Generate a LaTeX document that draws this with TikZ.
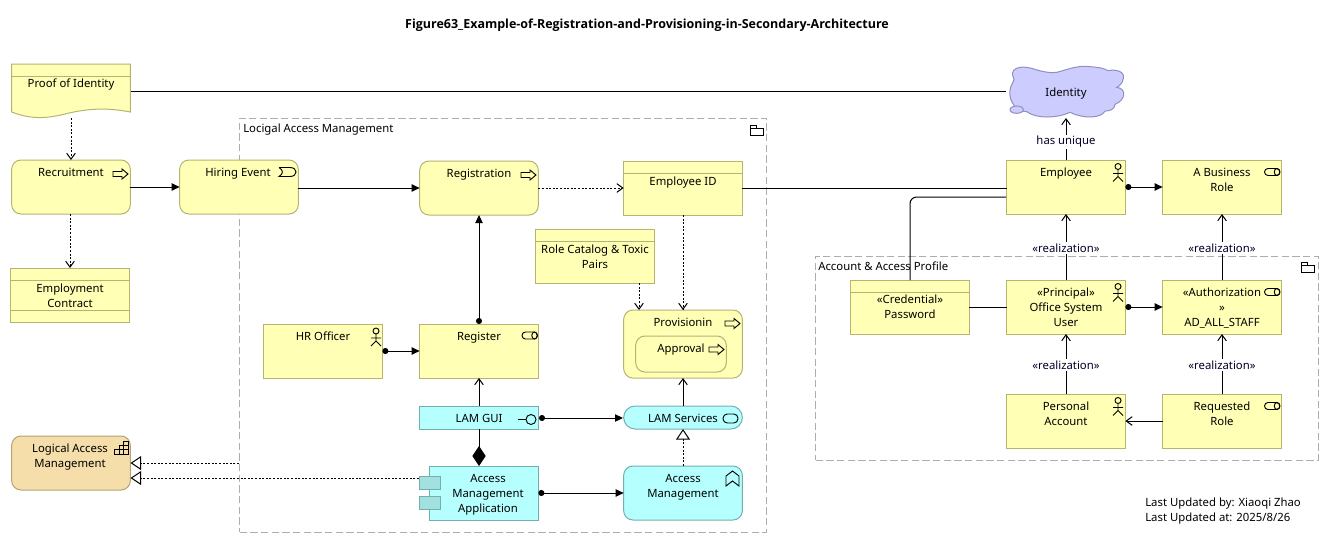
\documentclass[tikz,border=0pt]{standalone}
\usepackage{fontspec}
\setmainfont{Noto Sans}
\newfontfamily\titlefont{Open Sans}
\usetikzlibrary{arrows.meta,calc}
\definecolor{yel}{HTML}{FFFFB5}
\definecolor{yelb}{HTML}{B5B572}
\definecolor{cya}{HTML}{B5FFFF}
\definecolor{cyab}{HTML}{72B0B0}
\definecolor{cyad}{HTML}{A3E0E0}
\definecolor{str}{HTML}{F5DEAA}
\definecolor{strb}{HTML}{B3A377}
\definecolor{mot}{HTML}{CCCCFF}
\definecolor{motb}{HTML}{9090C0}
\definecolor{grp}{HTML}{ADADAD}
\tikzset{
  x=0.75pt,y=-0.75pt,
  box/.style={draw=yelb,fill=yel,line width=0.75pt,inner sep=0pt,outer sep=0pt},
  rbox/.style={box,rounded corners=7pt},
  cbox/.style={box,draw=cyab,fill=cya},
  crbox/.style={cbox,rounded corners=7pt},
  cpill/.style={cbox,rounded corners=8.6pt},
  sbox/.style={box,draw=strb,fill=str,rounded corners=7pt},
  ghost/.style={inner sep=0pt,outer sep=0pt},
  txt/.style={font=\fontsize{8.5}{11.25}\selectfont,align=center,inner sep=0pt,anchor=north,text=black,yshift=-1.5pt,execute at begin node=\strut},
  lab/.style={font=\fontsize{8.5}{11.25}\selectfont,fill=white,inner sep=1pt,text=black!85!blue},
  group/.style={draw=grp,line width=0.75pt,dash pattern=on 5.5pt off 2.5pt,inner sep=0pt,outer sep=0pt},
  icon/.style={draw=black,line width=0.7pt,fill=none},
  conn/.style={draw=black,line width=0.75pt},
  deps/.style={conn,dash pattern=on 1.5pt off 1.2pt},
  opena/.style={-{Straight Barb[length=4.5pt,width=6.5pt]}},
  filla/.style={-{Triangle[length=6pt,width=5.5pt]}},
  balla/.style={{Circle[length=4.5pt]}-{Triangle[length=6pt,width=5.5pt]}},
  hollowa/.style={-{Triangle[open,fill=white,length=8pt,width=10.5pt]}},
  diaa/.style={{Diamond[length=15pt,width=10pt]}-},
}
\newcommand{\elem}[7][0]{%
  \node[#2,minimum width={(#6-#4-1.3)*0.75pt},minimum height={(#7-#5)*0.75pt}] (#3) at ({(#4+#6)/2},{(#5+#7)/2}) {};}
\newcommand{\etext}[4]{\node[txt] (#1) at (#2,#3) {#4};}
\newcommand{\hdr}[2]{\draw[yelb,line width=0.75pt] ($(#1.north west)+(0,#2)$) -- ($(#1.north east)+(0,#2)$);}
\newcommand{\procicon}[2]{\draw[icon] (#1-15,#2-2.5) -- (#1-6,#2-2.5) -- (#1-6,#2-5) -- (#1,#2) -- (#1-6,#2+5) -- (#1-6,#2+2.5) -- (#1-15,#2+2.5) -- cycle;}
\newcommand{\roleicon}[2]{\draw[icon,rounded corners=2.6pt] (#1,#2) rectangle (#1+15.5,#2+7); \draw[icon] (#1+12.5,#2+3.5) ellipse (2.7 and 3.5);}
\newcommand{\actoricon}[2]{\draw[icon] (#1,#2) circle (3) (#1,#2+3) -- (#1,#2+10) (#1-5,#2+7) -- (#1+5,#2+7) (#1-5,#2+15) -- (#1,#2+10) -- (#1+5,#2+15);}
\newcommand{\foldericon}[2]{\draw[icon] (#1,#2+3) rectangle (#1+13,#2+10) (#1,#2+3) -- (#1,#2) -- (#1+6,#2) -- (#1+6,#2+3);}
\begin{document}
\begin{tikzpicture}
\useasboundingbox (0,0) rectangle (1334,543);
\fill[white] (0,0) rectangle (1334,543);
% groups
\elem{group}{lamg}{239}{118}{767}{532}
\elem{group}{accg}{815}{256}{1319}{460}
\node[txt,anchor=north west] (lamgt) at (243,120) {Locigal Access Management};
\node[txt,anchor=north west] (accgt) at (818,258) {Account \& Access Profile};
\foldericon{750}{125}
\foldericon{1301}{262}
% title
\node[font=\titlefont\bfseries\fontsize{9.37}{11}\selectfont,inner sep=0pt] (title) at (647,25.5) {Figure63\_Example-of-Registration-and-Provisioning-in-Secondary-Architecture};
% elements
\node[ghost,minimum width=90pt,minimum height=40.5pt] (proof) at (71,91) {};
\draw[box] (11.6,64) -- (130.4,64) -- (130.4,112) .. controls (105,107) and (85,109) .. (65,114) .. controls (45,119) and (30,119) .. (11.6,112) -- cycle;
\draw[yelb,line width=0.75pt] (11.6,76) -- (130.4,76);
\etext{proofT}{71}{75}{Proof of Identity}
\elem{rbox}{rec}{11}{160}{131}{214}
\etext{recT}{71}{164}{Recruitment}
\procicon{128}{174}
\elem{rbox}{hire}{179}{160}{299}{214}
\etext{hireT}{238}{164}{Hiring Event}
\draw[icon] (279,167.5) -- (290,167.5) .. controls (298,167.5) and (298,176.5) .. (290,176.5) -- (279,176.5) .. controls (283.5,174) and (283.5,170) .. (279,167.5);
\elem{box}{cont}{10}{268}{130}{322}
\hdr{cont}{12}\hdr{cont}{42}
\etext{contT}{70}{282}{Employment\\Contract}
\elem{rbox}{regn}{419}{161}{539}{215}
\etext{regnT}{479}{165}{Registration}
\procicon{536}{175}
\elem{box}{eid}{623}{161}{743}{215}
\hdr{eid}{12}
\etext{eidT}{683}{173}{Employee ID}
\elem{box}{cat}{535}{229}{655}{283}
\hdr{cat}{12}
\etext{catT}{595}{243}{Role Catalog \& Toxic\\Pairs}
\elem{rbox}{prov}{623}{310}{743}{378}
\etext{provT}{683}{314}{Provisionin}
\procicon{740}{323.5}
\elem{rbox}{appr}{635}{336}{727}{372}
\etext{apprT}{681}{340}{Approval}
\procicon{724}{349.5}
\elem{box}{hr}{263}{324}{383}{378}
\etext{hrT}{323}{328}{HR Officer}
\actoricon{376}{331}
\elem{box}{reg}{419}{324}{539}{378}
\etext{regT}{479}{328}{Register}
\roleicon{522}{332}
\elem{cbox}{gui}{419}{406}{539}{429}
\etext{guiT}{479}{410}{LAM GUI}
\draw[icon] (518,419.5) -- (526,419.5) (531,419.5) circle (5);
\elem{cpill}{svc}{623}{406}{743}{429}
\etext{svcT}{683}{410}{LAM Services}
\draw[icon,rounded corners=3.2pt] (723,414) rectangle (738,423);
\elem{cbox}{ama}{429}{466}{539}{520}
\node[cbox,fill=cyad,minimum width=15.75pt,minimum height=9.75pt] (tabA) at (429.5,482.5) {};
\node[cbox,fill=cyad,minimum width=15.75pt,minimum height=9.75pt] (tabB) at (429.5,502.5) {};
\etext{amaT}{488}{472}{Access\\Management\\Application}
\elem{crbox}{fun}{623}{466}{743}{520}
\etext{funT}{683}{472}{Access\\Management}
\draw[icon] (726,476) -- (732.5,471) -- (739,476) -- (739,486) -- (732.5,481) -- (726,486) -- cycle;
\elem{sbox}{cap}{11}{436}{131}{490}
\etext{capT}{70}{442}{Logical Access\\Management}
\draw[icon] (114.5,454) rectangle (128,449.5) (119,454) -- (119,445) (123.5,454) -- (123.5,441) -- (128,441) -- (128,449.5) (114.5,449.5) (119,449.5) (119,445) -- (128,445);
% identity cloud
\node[ghost,minimum width=90pt,minimum height=40.5pt] (ident) at (1066,91) {};
\begin{scope}[shift={(840,55)},x=0.25pt,y=-0.25pt]
\draw[draw=motb,fill=mot,line width=0.75pt] (522,72) .. controls (505,40) and (540,30) .. (575,40) .. controls (600,48) and (625,55) .. (650,52) .. controls (680,45) and (710,30) .. (750,35) .. controls (775,37) and (795,40) .. (803,47) .. controls (830,42) and (855,50) .. (850,70) .. controls (848,85) and (838,93) .. (830,97) .. controls (860,100) and (858,135) .. (825,148) .. controls (825,165) and (805,168) .. (795,168) .. controls (785,190) and (730,192) .. (690,172) .. controls (650,190) and (590,192) .. (560,170) .. controls (530,170) and (505,140) .. (510,105) .. controls (512,90) and (520,85) .. (522,72) -- cycle;
\draw[draw=motb,fill=mot,line width=0.75pt] (530,164) ellipse (20 and 11);
\end{scope}
\etext{identT}{1066}{84}{Identity}
\elem{box}{emp}{1006}{160}{1126}{214}
\etext{empT}{1066}{164}{Employee}
\actoricon{1118}{166.5}
\elem{box}{brole}{1162}{160}{1282}{214}
\etext{broleT}{1222}{166}{A Business\\Role}
\roleicon{1264.5}{168.5}
\elem{box}{pw}{850}{280}{970}{334}
\hdr{pw}{12}
\etext{pwT}{910}{293}{«Credential»\\Password}
\elem{box}{off}{1006}{280}{1126}{334}
\etext{offT}{1066}{286}{«Principal»\\Office System\\User}
\actoricon{1118}{286.5}
\elem{box}{auth}{1162}{280}{1282}{334}
\etext{authT}{1222}{286}{«Authorization\\»\\AD\_ALL\_STAFF}
\roleicon{1264.5}{288.5}
\elem{box}{pers}{1006}{394}{1126}{448}
\etext{persT}{1066}{400}{Personal\\Account}
\actoricon{1118}{400.5}
\elem{box}{req}{1162}{394}{1282}{448}
\etext{reqT}{1222}{400}{Requested\\Role}
\roleicon{1264.5}{402.5}
% connector end points away from centres
\coordinate (catS) at (639,283);
\coordinate (provC) at (639,310);
\coordinate (amaN) at (479,466);
\coordinate (empW2) at (1006,197);
\coordinate (pwN) at (910,280);
\coordinate (lamW) at (239,463);
\coordinate (capE) at (130.5,463);
\coordinate (tabW) at (419,478);
\coordinate (capE2) at (130.5,478);
\coordinate (guiE) at (539,418);
\coordinate (svcW) at (623,418);
% connectors
\draw[conn] (proof.east) -- (ident.west);
\draw[deps,opena] (proof.south) -- (rec.north);
\draw[deps,opena] (rec.south -| cont.north) -- (cont.north);
\draw[conn,filla] (rec.east) -- (hire.west);
\draw[conn,filla] (hire.east |- regn.west) -- (regn.west);
\draw[deps,opena] (regn.east) -- (eid.west);
\draw[conn] (eid.east) -- (emp.west |- eid.east);
\draw[conn,rounded corners=5pt] (pwN) -- (pwN |- empW2) -- (empW2);
\draw[deps,opena] (eid.south) -- (prov.north);
\draw[deps,opena] (catS) -- (provC);
\draw[conn,balla] (hr.east) -- (reg.west);
\draw[conn,{Circle[length=4.5pt]}-{Triangle[length=6pt,width=5.5pt]}] (reg.north) -- (regn.south);
\draw[conn,opena] (gui.north) -- (reg.south);
\draw[conn,balla] (guiE) -- (svcW);
\draw[conn,diaa] (amaN) -- (gui.south);
\draw[conn,balla] (ama.east) -- (fun.west);
\draw[conn,opena] (svc.north) -- (prov.south);
\draw[deps,hollowa] (fun.north) -- (svc.south);
\draw[deps,hollowa] (lamW) -- (capE);
\draw[deps,hollowa] (tabW) -- (capE2);
\draw[conn,opena] (emp.north) -- node[lab,yshift=-2pt] (l1) {has unique} (ident.south);
\draw[conn,balla] (emp.east) -- (brole.west);
\draw[conn,opena] (off.north) -- node[lab,yshift=-0.75pt] (l2) {«realization»} (emp.south);
\draw[conn,opena] (auth.north) -- node[lab,yshift=-0.75pt] (l3) {«realization»} (brole.south);
\draw[conn] (pw.east) -- (off.west);
\draw[conn,balla] (off.east) -- (auth.west);
\draw[conn,opena] (pers.north) -- node[lab,yshift=-0.75pt] (l4) {«realization»} (off.south);
\draw[conn,opena] (req.north) -- node[lab,yshift=-0.75pt] (l5) {«realization»} (auth.south);
\draw[conn,opena] (req.west) -- (pers.east);
% footer
\node[txt,anchor=north west,align=left] (foot) at (1145,496) {Last Updated by: Xiaoqi Zhao\\Last Updated at: 2025/8/26};
\end{tikzpicture}
\end{document}
